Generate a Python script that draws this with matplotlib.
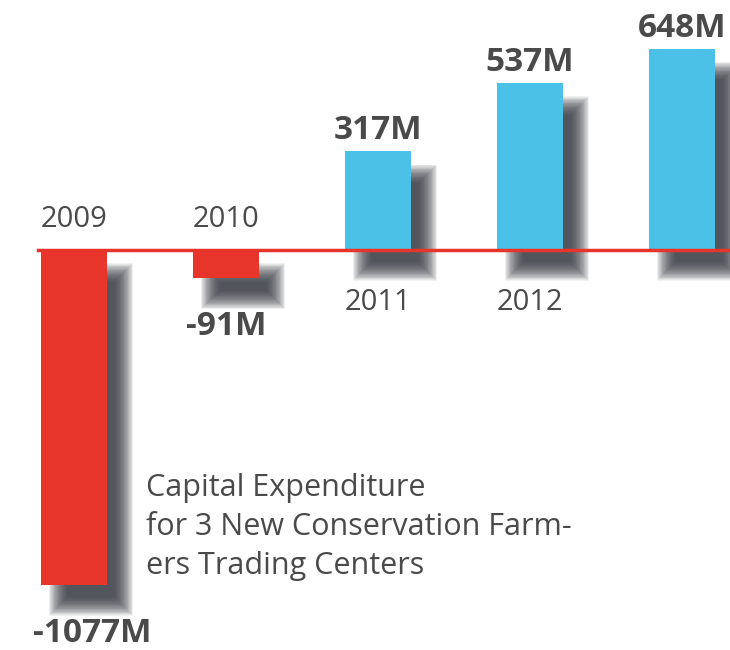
"""
plot.py
Yearly result bars with drop shadows (capital expenditure year in red).
"""
import matplotlib
matplotlib.use('Agg')
import matplotlib.pyplot as plt
from matplotlib.patches import Rectangle

years = ['2009', '2010', '2011', '2012', '2013']
values = [-1077, -91, 317, 537, 648]
value_labels = ['-1077M', '-91M', '317M', '537M', '648M']
show_year = [True, True, True, True, False]
note = 'Capital Expenditure\nfor 3 New Conservation Farm-\ners Trading Centers'

RED = '#e8352b'
BLUE = '#4cc1e7'
TEXT = '#4a4a4a'

plt.rcParams['font.family'] = ['Open Sans', 'DejaVu Sans']

fig = plt.figure(figsize=(7.3, 6.5), dpi=100)
ax = fig.add_axes([0, 0, 1, 1])
ax.set_xlim(-0.487, 4.316)
ax.set_ylim(-1286, 804)
ax.axis('off')

# pixel -> data conversions
px_x = (4.316 + 0.487) / 730
px_y = (804 + 1286) / 650

width = 0.44
dx, dy = 17 * px_x, -22 * px_y

# Soft shadow: stack of translucent rectangles of growing size
n_layers = 24
for i, v in enumerate(values):
    x0 = i - width / 2 + dx
    y0 = min(0, v) + dy
    h = abs(v)
    for k in range(n_layers):
        g = (k - n_layers / 2) * 0.8
        ax.add_patch(Rectangle((x0 - g * px_x, y0 - g * px_y),
                               width + 2 * g * px_x, h + 2 * g * px_y,
                               facecolor='#30343c', edgecolor='none',
                               alpha=0.065, zorder=1))

colors = [RED if v < 0 else BLUE for v in values]
ax.bar(range(len(values)), values, width=width, color=colors, zorder=2)

ax.axhline(0, xmin=(38 * px_x) / (4.316 + 0.487), xmax=1,
           color=RED, lw=2.5, zorder=3)

for i, v in enumerate(values):
    if v >= 0:
        ax.text(i, v + 4 * px_y, value_labels[i], ha='center', va='bottom',
                fontsize=24, fontweight='bold', color=TEXT)
        if show_year[i]:
            ax.text(i, -38 * px_y, years[i], ha='center', va='top',
                    fontsize=21, color=TEXT)
    else:
        # the big label sits under bar + shadow, so nudge it right
        shift = 0.12 if v < -500 else 0.0
        ax.text(i + shift, v - 32 * px_y, value_labels[i], ha='center', va='top',
                fontsize=24, fontweight='bold', color=TEXT)
        ax.text(i, 16 * px_y, years[i], ha='center', va='bottom',
                fontsize=21, color=TEXT)

ax.text(0.475, -223 * px_y, note, ha='left', va='top', fontsize=22,
        color=TEXT, linespacing=1.38)

fig.savefig('out.png', dpi=100)
